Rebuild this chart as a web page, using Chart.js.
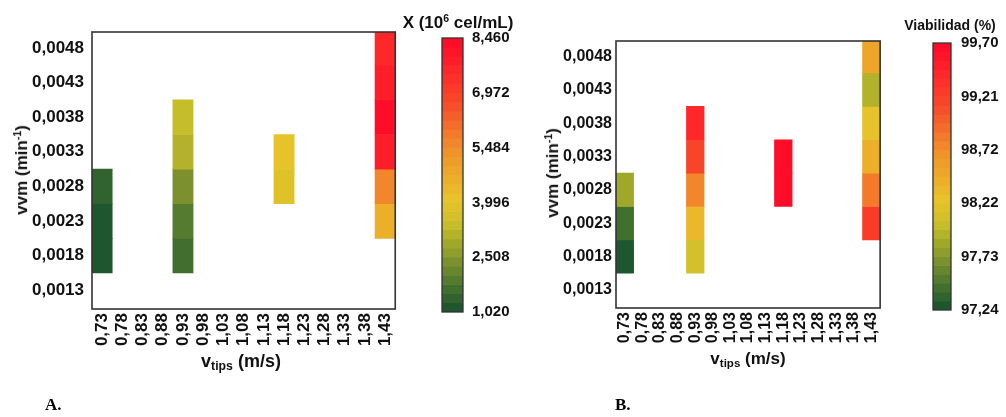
<!DOCTYPE html>
<html>
<head>
<meta charset="utf-8">
<script src="https://cdn.jsdelivr.net/npm/chart.js@4"></script>
<style>
  html, body { margin:0; padding:0; background:#fff; }
  body { width:1006px; height:417px; position:relative; overflow:hidden; font-family:"Liberation Sans", Arial, sans-serif; }
  canvas { position:absolute; }
  .t { position:absolute; font-weight:bold; color:#111; white-space:nowrap; transform:translate(-50%,-50%); line-height:1; }
  .rot { transform:translate(-50%,-50%) rotate(-90deg); }
  .t sup { font-size:0.62em; vertical-align:0.55em; }
  .t sub { font-size:0.68em; vertical-align:-0.3em; }
  .lab { position:absolute; font-family:"Liberation Serif","Times New Roman",serif; font-weight:bold; font-size:17px; color:#000; transform:translateY(-50%); }
</style>
</head>
<body>
<canvas id="cA" width="410" height="400" style="left:0;top:0"></canvas>
<canvas id="barA" width="100" height="330" style="left:430px;top:0"></canvas>
<canvas id="cB" width="395" height="400" style="left:500px;top:0"></canvas>
<canvas id="barB" width="86" height="330" style="left:920px;top:0"></canvas>

<div class="t rot" style="left:21px;top:170px;font-size:17px">vvm (min<sup>-1</sup>)</div>
<div class="t" style="left:241px;top:362px;font-size:18px">v<sub>tips</sub> (m/s)</div>
<div class="t" style="left:458px;top:22px;font-size:17px">X (10<sup>6</sup> cel/mL)</div>
<div class="lab" style="left:45px;top:405px">A.</div>

<div class="t rot" style="left:552px;top:173px;font-size:17px">vvm (min<sup>-1</sup>)</div>
<div class="t" style="left:748px;top:360px;font-size:17px">v<sub>tips</sub> (m/s)</div>
<div class="t" style="left:950px;top:25px;font-size:14px">Viabilidad (%)</div>
<div class="lab" style="left:615px;top:405px">B.</div>

<script>
// ---------- data ----------
const vtipsLabels = ['0,73','0,78','0,83','0,88','0,93','0,98','1,03','1,08','1,13','1,18','1,23','1,28','1,33','1,38','1,43'];
const vvmTicks = [0.0013, 0.0018, 0.0023, 0.0028, 0.0033, 0.0038, 0.0043, 0.0048];
const cellTips = ['0,73','0,73','0,73', '0,93','0,93','0,93','0,93','0,93', '1,18','1,18', '1,43','1,43','1,43','1,43','1,43','1,43'];
const cellVvm  = [0.0018,0.0023,0.0028, 0.0018,0.0023,0.0028,0.0033,0.0038, 0.0028,0.0033, 0.0023,0.0028,0.0033,0.0038,0.0043,0.0048];
const biomass   = [1.03,1.10,1.39, 1.62,1.84,2.43,3.18,3.33, 3.92,4.22, 4.59,5.71,7.94,8.46,7.72,7.49];
const viability = [97.29,97.44,97.82, 98.13,98.35,98.74,99.16,99.45, 99.69,99.70, 99.28,98.81,98.42,98.25,97.94,98.49];
const biomassTicks   = [1.020, 2.508, 3.996, 5.484, 6.972, 8.460];
const viabilityTicks = [97.24, 97.732, 98.224, 98.716, 99.208, 99.70];

// ---------- styling helpers ----------
const FONT = '"Liberation Sans", Arial, sans-serif';
const NB = 30;
const stops = [
  [0.00, '#154F2E'],
  [0.10, '#4A762E'],
  [0.18, '#7A902E'],
  [0.25, '#A0A82A'],
  [0.32, '#C8BE2A'],
  [0.41, '#E8C42A'],
  [0.50, '#ECAA2A'],
  [0.59, '#F0922A'],
  [0.67, '#F3722A'],
  [0.75, '#F5502A'],
  [0.87, '#FE2A2A'],
  [1.00, '#FF0828']
].map(([f, h]) => [f, [parseInt(h.slice(1,3),16), parseInt(h.slice(3,5),16), parseInt(h.slice(5,7),16)]]);
function colorAt(f) {
  for (let i = 1; i < stops.length; i++) {
    if (f <= stops[i][0]) {
      const [f0, c0] = stops[i-1], [f1, c1] = stops[i];
      const t = (f - f0) / (f1 - f0);
      const c = c0.map((v, k) => Math.round(v + (c1[k] - v) * t));
      return `rgb(${c[0]},${c[1]},${c[2]})`;
    }
  }
  const c = stops[stops.length-1][1];
  return `rgb(${c[0]},${c[1]},${c[2]})`;
}
function bandColor(v, min, max) {
  let i = Math.floor((v - min) / (max - min) * NB);
  i = Math.max(0, Math.min(NB - 1, i));
  return colorAt((i + 0.5) / NB);
}

const frame = {
  id: 'frame',
  afterDatasetsDraw(chart, args, opts) {
    const a = chart.chartArea, ctx = chart.ctx;
    ctx.save();
    ctx.strokeStyle = opts.color || '#333';
    ctx.lineWidth = opts.width || 1.5;
    ctx.strokeRect(a.left, a.top, a.right - a.left, a.bottom - a.top);
    ctx.restore();
  }
};

function heatmap(id, values, vmin, vmax, cfg) {
  const half = 0.00025;
  const data = cellTips.map((t, i) => ({ x: t, y: [cellVvm[i] - half, cellVvm[i] + half] }));
  const colors = values.map(v => bandColor(v, vmin, vmax));
  return new Chart(document.getElementById(id), {
    type: 'bar',
    data: {
      labels: vtipsLabels,
      datasets: [{ data, backgroundColor: colors, borderWidth: 0, barPercentage: 1, categoryPercentage: 1 }]
    },
    options: {
      responsive: false, animation: false, devicePixelRatio: 1,
      layout: { padding: { left: 0, top: cfg.top, right: cfg.right, bottom: 0 } },
      plugins: { legend: { display: false }, tooltip: { enabled: false }, frame: { color: '#333', width: 1.6 } },
      scales: {
        x: {
          type: 'category', offset: true,
          grid: { display: false, drawTicks: false }, border: { display: false },
          ticks: { autoSkip: false, minRotation: 90, maxRotation: 90, padding: 4, color: '#111',
                   font: { family: FONT, size: cfg.xFont, weight: 'bold' } },
          afterFit: s => { s.height = cfg.xH; }
        },
        y: {
          type: 'linear', min: 0.00103, max: 0.00503,
          grid: { display: false, drawTicks: false }, border: { display: false },
          afterBuildTicks: s => { s.ticks = vvmTicks.map(v => ({ value: v })); },
          ticks: { padding: cfg.yPad, color: '#111', font: { family: FONT, size: cfg.yFont, weight: 'bold' },
                   callback: v => v.toFixed(4).replace('.', ',') },
          afterFit: s => { s.width = cfg.yW; }
        }
      }
    },
    plugins: [frame]
  });
}

function colorbar(id, vmin, vmax, tickVals, dec, cfg) {
  const step = (vmax - vmin) / NB;
  const data = [], colors = [];
  for (let i = 0; i < NB; i++) {
    data.push({ x: 'c', y: [vmin + i * step, vmin + (i + 1) * step] });
    colors.push(colorAt((i + 0.5) / NB));
  }
  return new Chart(document.getElementById(id), {
    type: 'bar',
    data: { labels: ['c'], datasets: [{ data, backgroundColor: colors, borderWidth: 0, barPercentage: 1, categoryPercentage: 1 }] },
    options: {
      responsive: false, animation: false, devicePixelRatio: 1,
      layout: { padding: { left: cfg.left, top: cfg.top, right: 0, bottom: cfg.bottom } },
      plugins: { legend: { display: false }, tooltip: { enabled: false }, frame: { color: '#333', width: 1.3 } },
      scales: {
        x: { display: false, offset: true },
        y: {
          type: 'linear', position: 'right', min: vmin, max: vmax,
          grid: { display: false, drawTicks: false }, border: { display: false },
          afterBuildTicks: s => { s.ticks = tickVals.map(v => ({ value: v })); },
          ticks: { padding: cfg.pad, color: '#111', font: { family: FONT, size: 15, weight: 'bold' },
                   callback: v => v.toFixed(dec).replace('.', ',') },
          afterFit: s => { s.width = cfg.w; }
        }
      }
    },
    plugins: [frame]
  });
}

heatmap('cA', biomass, biomassTicks[0], biomassTicks[biomassTicks.length-1],
        { top: 32, right: 14, xH: 91, yW: 92, yPad: 8, xFont: 17, yFont: 17 });
colorbar('barA', biomassTicks[0], biomassTicks[biomassTicks.length-1], biomassTicks, 3,
        { left: 12, top: 38, bottom: 15, w: 67, pad: 9 });
heatmap('cB', viability, viabilityTicks[0], viabilityTicks[viabilityTicks.length-1],
        { top: 41, right: 14, xH: 92, yW: 116, yPad: 4, xFont: 16, yFont: 16 });
colorbar('barB', viabilityTicks[0], viabilityTicks[viabilityTicks.length-1], viabilityTicks, 2,
        { left: 13, top: 43, bottom: 20, w: 55, pad: 10 });
</script>
</body>
</html>
